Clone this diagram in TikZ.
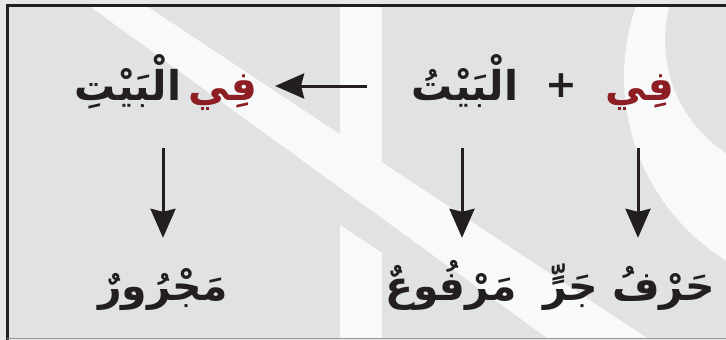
\documentclass[tikz,border=0pt]{standalone}
\usepackage{fontspec}
\newfontfamily\arabicfont[Script=Arabic]{DejaVu Sans}
\newfontfamily\plusfont{DejaVu Sans}
\TeXXeTstate=1
\usetikzlibrary{arrows.meta,positioning}

\begin{document}
\begin{tikzpicture} [x=1pt, y=-1pt,
word/.style    = { font=\arabicfont\bfseries\fontsize{41}{44}\selectfont,
    text=ink, inner sep=0pt, text height=40pt, text depth=18pt, anchor=base },
harfword/.style = { word, text=harfred },
plussign/.style = { font=\plusfont\fontsize{38}{40}\selectfont, text=ink, inner sep=0pt },
band/.style    = { fill=wmark, draw=none },
line/.style     = { draw, line width=3pt, color=ink,
    -{Stealth[length=29pt, width=25pt, inset=3pt]} },
]
\definecolor{ink}{RGB}{35,31,32}
\definecolor{harfred}{RGB}{140,30,36}
\definecolor{paper}{RGB}{225,226,227}
\definecolor{outside}{RGB}{231,231,231}
\definecolor{wmark}{RGB}{248,249,251}
\definecolor{rule}{RGB}{150,150,150}

\useasboundingbox (0,0) rectangle (726,340);
\fill[outside] (0,0) rectangle (726,340);
\fill[paper] (7,5) rectangle (726,338);

% watermark in the back
\begin{scope}
\clip (7,5) rectangle (726,338);
\path[band] (88,5) -- (145,5) -- (650,340) -- (550,340) -- cycle;
\path[band] (340,5) -- (382,5) -- (382,165) -- (340,137) -- cycle;
\path[band] (340,225) -- (382,253) -- (382,340) -- (340,340) -- cycle;
\path[band] (840,77) circle (216);
\fill[paper] (800,40) circle (135);
\end{scope}

% frame
\draw[line width=3pt, ink] (7,340) -- (7,5) -- (726,5);
\draw[line width=1pt, rule] (7,338.5) -- (726,338.5);

% words
\node[harfword] (fi) at (640,100) {\beginR فِي\endR};
\node[plussign] (plus) at (561,86) {\bfseries +};
\node[word] (bayt) at (465,100) {\beginR الْبَيْتُ\endR};
\node[word] (bayt2) at (128,100) {\beginR الْبَيْتِ\endR};
\node[harfword, right=7pt of bayt2] (fi2) {\beginR فِي\endR};

\node[word] (majrur) at (163,300) {\beginR مَجْرُورٌ\endR};
\node[word] (marfu) at (451,300) {\beginR مَرْفُوعٌ\endR};
\node[word] (harf) at (629,300) {\beginR حَرْفُ جَرٍّ\endR};

% arrows
\begin{scope} [every path/.style=line]
\path[shorten <=45pt, shorten >=18pt] (bayt.west |- plus) -- (fi2.east |- plus);
\path[shorten <=30pt, shorten >=22pt] (majrur.north |- bayt2.south) -- (majrur.north);
\path[shorten <=30pt, shorten >=22pt] ([xshift=-3pt]bayt.south) -- ([xshift=-3pt]bayt.south |- marfu.north);
\path[shorten <=30pt, shorten >=22pt] ([xshift=-2pt]fi.south) -- ([xshift=-2pt]fi.south |- harf.north);
\end{scope}

\end{tikzpicture}
\end{document}
